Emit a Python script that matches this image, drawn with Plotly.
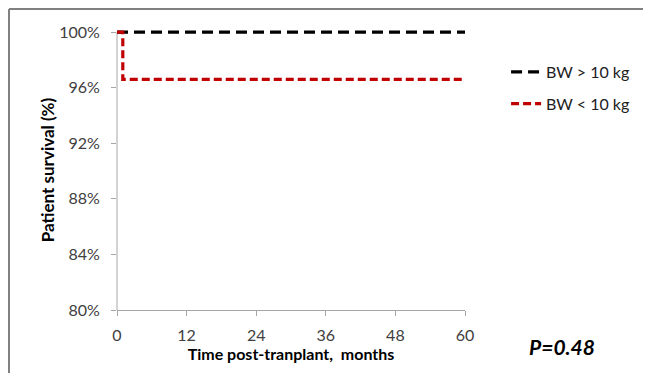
import plotly.graph_objects as go

# Data
months = [0, 12, 24, 36, 48, 60]
bw_gt10_time = [0, 60]
bw_gt10_surv = [1.00, 1.00]
bw_lt10_time = [0, 1, 1, 60]
bw_lt10_surv = [1.00, 1.00, 0.966, 0.966]
y_ticks = [0.80, 0.84, 0.88, 0.92, 0.96, 1.00]
p_value = "P=0.48"

FONT = "Lato"

fig = go.Figure()
fig.add_trace(go.Scatter(
    x=bw_gt10_time, y=bw_gt10_surv, mode="lines", name="BW > 10 kg",
    legendgroup="a",
    line=dict(color="#000000", width=3.2, dash="11px,6px"),
))
fig.add_trace(go.Scatter(
    x=bw_lt10_time, y=bw_lt10_surv, mode="lines", name="BW < 10 kg",
    legendgroup="b",
    line=dict(color="#c00000", width=3.2, dash="8px,4px"),
))

fig.update_layout(
    width=651, height=373,
    margin=dict(l=109, r=194, t=22, b=71, autoexpand=False),
    paper_bgcolor="white", plot_bgcolor="white",
    font=dict(family=FONT, size=16, color="#404040"),
    showlegend=True,
    legend=dict(x=1.118, y=0.911, xanchor="left", yanchor="top",
                font=dict(family=FONT, size=16, color="#202020"),
                traceorder="grouped", tracegroupgap=8,
                bgcolor="rgba(0,0,0,0)"),
    xaxis=dict(range=[0, 60], tickvals=months, showgrid=False, zeroline=False,
               showline=True, linecolor="#a6a6a6", linewidth=1,
               ticks="outside", ticklen=5, tickcolor="#a6a6a6",
               ticklabelstandoff=6,
               title=dict(text="<b>Time post-tranplant,  months</b>",
                          font=dict(family=FONT, size=16, color="#000000"), standoff=4)),
    yaxis=dict(range=[0.80, 1.0015], tickvals=y_ticks, tickformat=".0%",
               showgrid=False, zeroline=False,
               showline=False,
               ticks="outside", ticklen=5, tickcolor="#a6a6a6",
               ticklabelstandoff=8,
               title=dict(text="<b>Patient survival (%)</b>",
                          font=dict(family=FONT, size=17, color="#000000"), standoff=0)),
    shapes=[
        dict(type="line", xref="paper", yref="y", x0=0, x1=0, y0=0.80, y1=1.0,
             line=dict(color="#a6a6a6", width=1), layer="below"),
        dict(type="line", xref="paper", yref="paper", x0=-0.3103, x1=1.6, y0=1.075, y1=1.075,
             line=dict(color="#808080", width=2)),
        dict(type="line", xref="paper", yref="paper", x0=-0.3103, x1=-0.3103, y0=1.075, y1=-0.3,
             line=dict(color="#808080", width=2)),
    ],
    annotations=[
        dict(text="<b><i>" + p_value + "</i></b>", xref="paper", yref="paper",
             x=1.178, y=-0.132, xanchor="left", yanchor="middle", showarrow=False,
             font=dict(family=FONT, size=21, color="#000000")),
    ],
)

fig.write_html("out.html")
